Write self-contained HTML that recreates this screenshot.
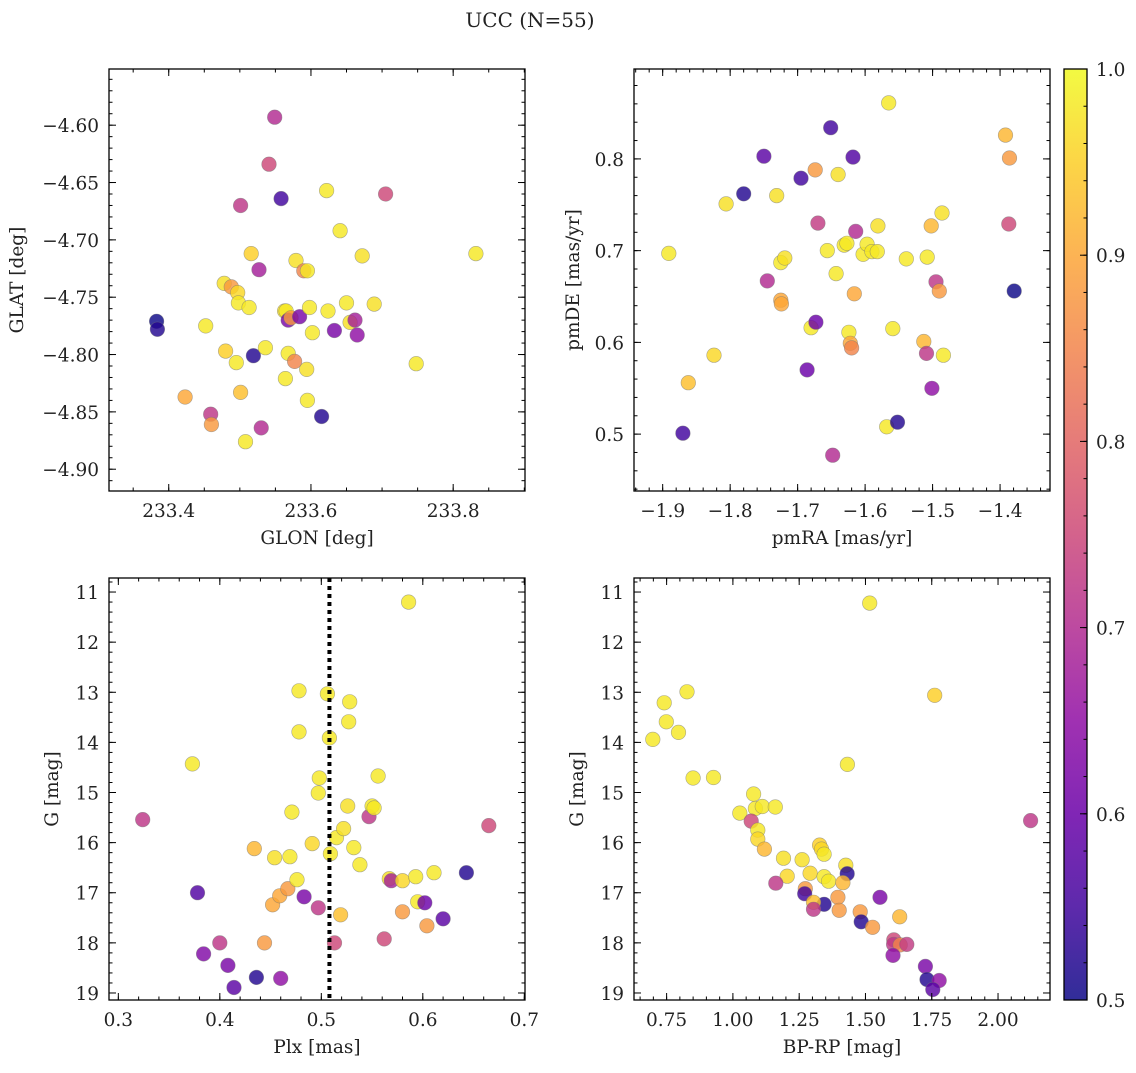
<!DOCTYPE html>
<html><head><meta charset="utf-8">
<style>
html,body{margin:0;padding:0;background:#fff;}
svg text{font-family:"DejaVu Serif","Liberation Serif",serif;fill:#222;}
</style></head>
<body>
<svg id="fig" width="1136" height="1068" viewBox="0 0 1136 1068" xmlns="http://www.w3.org/2000/svg">
<text x="530" y="27" font-size="20" text-anchor="middle">UCC (N=55)</text>
</svg>
<script>
const p1x = [233.383,233.384,233.423,233.452,233.459,233.460,233.480,233.478,233.488,233.497,233.498,233.495,233.501,233.501,233.508,233.513,233.516,233.519,233.527,233.530,233.536,233.541,233.549,233.558,233.563,233.565,233.568,233.564,233.568,233.572,233.577,233.579,233.584,233.590,233.595,233.594,233.595,233.598,233.602,233.615,233.622,233.624,233.633,233.641,233.650,233.655,233.662,233.665,233.672,233.689,233.705,233.748,233.832];
const p1y = [-4.771,-4.778,-4.837,-4.775,-4.852,-4.861,-4.797,-4.738,-4.741,-4.746,-4.755,-4.807,-4.670,-4.833,-4.876,-4.759,-4.712,-4.801,-4.726,-4.864,-4.794,-4.634,-4.593,-4.664,-4.762,-4.762,-4.770,-4.821,-4.799,-4.768,-4.806,-4.718,-4.767,-4.727,-4.727,-4.813,-4.840,-4.759,-4.781,-4.854,-4.657,-4.762,-4.779,-4.692,-4.755,-4.772,-4.770,-4.783,-4.714,-4.756,-4.660,-4.808,-4.712];
const p1c = [0.5,0.52,0.9,0.98,0.72,0.88,0.95,0.97,0.88,0.96,0.98,0.98,0.72,0.93,0.98,0.98,0.95,0.52,0.68,0.7,0.98,0.75,0.7,0.55,0.97,0.98,0.62,0.98,0.98,0.88,0.85,0.97,0.62,0.85,0.98,0.97,0.98,0.98,0.98,0.52,0.98,0.98,0.62,0.98,0.98,0.97,0.68,0.65,0.97,0.97,0.75,0.98,0.98];
const p2x = [-1.891,-1.862,-1.870,-1.824,-1.806,-1.780,-1.750,-1.745,-1.731,-1.725,-1.719,-1.725,-1.724,-1.695,-1.680,-1.686,-1.674,-1.670,-1.673,-1.656,-1.651,-1.648,-1.643,-1.640,-1.631,-1.627,-1.624,-1.622,-1.620,-1.618,-1.616,-1.614,-1.603,-1.597,-1.590,-1.582,-1.581,-1.565,-1.568,-1.559,-1.552,-1.539,-1.513,-1.509,-1.508,-1.502,-1.501,-1.495,-1.490,-1.486,-1.484,-1.392,-1.386,-1.387,-1.379];
const p2y = [0.697,0.556,0.501,0.586,0.751,0.762,0.803,0.667,0.760,0.687,0.692,0.646,0.642,0.779,0.616,0.570,0.788,0.730,0.622,0.700,0.834,0.477,0.675,0.783,0.706,0.708,0.611,0.599,0.594,0.802,0.653,0.721,0.696,0.707,0.699,0.699,0.727,0.861,0.508,0.615,0.513,0.691,0.601,0.588,0.693,0.727,0.550,0.666,0.656,0.741,0.586,0.826,0.801,0.729,0.656];
const p2c = [0.98,0.93,0.55,0.96,0.97,0.52,0.58,0.7,0.97,0.98,0.97,0.9,0.9,0.55,0.98,0.6,0.88,0.73,0.6,0.98,0.55,0.7,0.98,0.97,0.98,0.98,0.98,0.9,0.85,0.57,0.9,0.7,0.98,0.98,0.98,0.98,0.97,0.98,0.98,0.98,0.52,0.98,0.92,0.72,0.98,0.92,0.65,0.72,0.88,0.97,0.98,0.92,0.88,0.75,0.5];
const p3x = [0.324,0.373,0.378,0.384,0.400,0.408,0.414,0.434,0.436,0.444,0.452,0.454,0.459,0.460,0.467,0.469,0.471,0.476,0.478,0.478,0.483,0.491,0.497,0.498,0.497,0.506,0.508,0.509,0.513,0.515,0.519,0.522,0.526,0.528,0.527,0.532,0.538,0.556,0.547,0.550,0.552,0.562,0.567,0.569,0.580,0.580,0.586,0.593,0.595,0.602,0.604,0.611,0.620,0.643,0.665];
const p3y = [15.54,14.43,17.00,18.22,18.00,18.45,18.89,16.12,18.69,18.00,17.24,16.30,17.06,18.71,16.92,16.28,15.39,16.74,12.97,13.79,17.08,16.02,17.30,14.71,15.01,13.03,13.91,16.22,18.00,15.90,17.44,15.72,15.27,13.19,13.59,16.10,16.44,14.67,15.48,15.27,15.31,17.92,16.72,16.76,16.76,17.38,11.20,16.68,17.18,17.20,17.66,16.60,17.52,16.60,15.66];
const p3c = [0.72,0.98,0.57,0.63,0.72,0.62,0.58,0.92,0.52,0.88,0.9,0.97,0.9,0.65,0.88,0.98,0.98,0.98,0.98,0.98,0.62,0.96,0.72,0.98,0.98,0.98,0.98,0.98,0.75,0.98,0.93,0.97,0.97,0.98,0.98,0.98,0.98,0.98,0.72,0.98,0.98,0.75,0.97,0.68,0.96,0.88,0.98,0.98,0.98,0.6,0.88,0.98,0.58,0.52,0.75];
const plxLine = [0.508];
const p4x = [1.516,1.761,0.698,0.741,0.749,0.795,0.827,0.850,0.927,1.432,2.123,1.078,1.026,1.085,1.111,1.160,1.069,1.094,1.094,1.119,1.191,1.261,1.327,1.334,1.344,1.426,1.431,1.205,1.291,1.344,1.361,1.415,1.162,1.273,1.271,1.344,1.304,1.304,1.396,1.401,1.555,1.480,1.484,1.527,1.629,1.607,1.606,1.631,1.656,1.604,1.726,1.732,1.778,1.754];
const p4y = [11.22,13.06,13.94,13.21,13.59,13.80,12.99,14.71,14.70,14.44,15.56,15.03,15.41,15.32,15.28,15.29,15.57,15.75,15.93,16.13,16.31,16.34,16.05,16.13,16.23,16.45,16.62,16.67,16.61,16.68,16.77,16.80,16.81,16.92,17.02,17.23,17.19,17.33,17.09,17.35,17.09,17.38,17.58,17.69,17.48,17.94,18.03,18.04,18.03,18.25,18.47,18.73,18.75,18.93];
const p4c = [0.98,0.95,0.98,0.98,0.98,0.98,0.98,0.98,0.98,0.98,0.72,0.98,0.98,0.98,0.98,0.98,0.75,0.98,0.96,0.92,0.97,0.97,0.95,0.96,0.98,0.97,0.52,0.96,0.96,0.98,0.98,0.92,0.72,0.88,0.55,0.52,0.93,0.72,0.88,0.88,0.62,0.88,0.52,0.88,0.92,0.75,0.72,0.85,0.73,0.65,0.62,0.52,0.65,0.58];
const cbTicks = [0.5,0.6,0.7,0.8,0.9,1.0];

const NS = "http://www.w3.org/2000/svg";
const svg = document.getElementById('fig');
const stops = ["#0d0887","#41049d","#6a00a8","#8f0da4","#b12a90","#cc4778","#e16462","#f2844b","#fca636","#fcce25","#f0f921"];
function hex(h){return [parseInt(h.slice(1,3),16),parseInt(h.slice(3,5),16),parseInt(h.slice(5,7),16)];}
function plasma(t){t=Math.max(0,Math.min(1,t));const f=t*10;const i=Math.min(9,Math.floor(f));const u=f-i;const a=hex(stops[i]),b=hex(stops[i+1]);
  return "rgb("+a.map((v,k)=>Math.round(v+(b[k]-v)*u)).join(",")+")";}
function mk(tag,attrs,parent){const e=document.createElementNS(NS,tag);for(const k in attrs)e.setAttribute(k,attrs[k]);(parent||svg).appendChild(e);return e;}
const FS=18.5;
function panel(o){
  const g=mk('g',{});
  
  
  const sx=v=>o.L+(v-o.x0)/(o.x1-o.x0)*(o.R-o.L);
  const sy=v=>o.B-(v-o.y0)/(o.y1-o.y0)*(o.B-o.T);
  const pg=mk('g',{},g);
  
  
  for(let i=0;i<o.xs.length;i++){
    const c=mk('circle',{cx:sx(o.xs[i]).toFixed(1),cy:sy(o.ys[i]).toFixed(1),r:7.3,fill:plasma((o.cs[i]-0.5)/0.5),'fill-opacity':0.82,stroke:'#777','stroke-opacity':0.6,'stroke-width':0.6},pg);
    
    
  }
  if(o.vline){
    o.vline.forEach(v=>{
      const l=mk('line',{x1:sx(v),x2:sx(v),y1:o.T,y2:o.B,stroke:'#000','stroke-width':4,'stroke-dasharray':'4,4'},g);
      
      
    });
  }
  const tg=mk('g',{stroke:'#000','stroke-width':1},g);
  function ticksFor(lo,hi,step){const a=[];const s=Math.ceil(lo/step-1e-6);for(let k=s;k*step<=hi+1e-9;k++)a.push(+(k*step).toFixed(6));return a;}
  const xlo=Math.min(o.x0,o.x1),xhi=Math.max(o.x0,o.x1),ylo=Math.min(o.y0,o.y1),yhi=Math.max(o.y0,o.y1);
  ticksFor(xlo,xhi,o.xmin).forEach(v=>{const x=sx(v);mk('line',{x1:x,x2:x,y1:o.B,y2:o.B-3.5},tg);mk('line',{x1:x,x2:x,y1:o.T,y2:o.T+3.5},tg);});
  ticksFor(ylo,yhi,o.ymin).forEach(v=>{const y=sy(v);mk('line',{x1:o.L,x2:o.L+3.5,y1:y,y2:y},tg);mk('line',{x1:o.R,x2:o.R-3.5,y1:y,y2:y},tg);});
  ticksFor(xlo,xhi,o.xmaj).forEach(v=>{const x=sx(v);mk('line',{x1:x,x2:x,y1:o.B,y2:o.B-7},tg);mk('line',{x1:x,x2:x,y1:o.T,y2:o.T+7},tg);
    const t=mk('text',{x:x,y:o.B+26,'font-size':FS,'text-anchor':'middle'},g);t.textContent=o.xf(v).replace('-','\u2212');
    
    });
  ticksFor(ylo,yhi,o.ymaj).forEach(v=>{const y=sy(v);mk('line',{x1:o.L,x2:o.L+7,y1:y,y2:y},tg);mk('line',{x1:o.R,x2:o.R-7,y1:y,y2:y},tg);
    const t=mk('text',{x:o.L-10,y:y+7,'font-size':FS,'text-anchor':'end'},g);t.textContent=o.yf(v).replace('-','\u2212');
    
    });
  const fr=mk('rect',{x:o.L,y:o.T,width:o.R-o.L,height:o.B-o.T,fill:'none',stroke:'#000','stroke-width':1.3},g);
  
  
  const xl=mk('text',{x:(o.L+o.R)/2,y:o.B+53,'font-size':FS,'text-anchor':'middle'},g);xl.textContent=o.xlabel;
  
  
  const yx=o.ylx, yy=(o.T+o.B)/2;
  const yl=mk('text',{x:yx,y:yy,'font-size':FS,'text-anchor':'middle',transform:'rotate(-90 '+yx+' '+yy+')'},g);yl.textContent=o.ylabel;
  
  
}
const f2=v=>v.toFixed(2), f1=v=>v.toFixed(1), f0=v=>v.toFixed(0);
panel({name:'glon-glat-panel',L:109,R:525,T:69,B:491,x0:233.316,x1:233.901,y0:-4.919,y1:-4.551,xs:p1x,ys:p1y,cs:p1c,xmaj:0.2,xmin:0.05,ymaj:0.05,ymin:0.01,xf:f1,yf:f2,xlabel:'GLON [deg]',ylabel:'GLAT [deg]',ylx:23});
panel({name:'pm-panel',L:634,R:1050,T:69,B:491,x0:-1.9425,x1:-1.326,y0:0.438,y1:0.898,xs:p2x,ys:p2y,cs:p2c,xmaj:0.1,xmin:0.02,ymaj:0.1,ymin:0.02,xf:f1,yf:f1,xlabel:'pmRA [mas/yr]',ylabel:'pmDE [mas/yr]',ylx:579});
panel({name:'plx-g-panel',L:109,R:525,T:578,B:1000,x0:0.2908,x1:0.7007,y0:19.14,y1:10.72,xs:p3x,ys:p3y,cs:p3c,xmaj:0.1,xmin:0.02,ymaj:1,ymin:0.2,xf:f1,yf:f0,xlabel:'Plx [mas]',ylabel:'G [mag]',ylx:58,vline:plxLine});
panel({name:'cmd-panel',L:634,R:1050,T:578,B:1000,x0:0.627,x1:2.196,y0:19.14,y1:10.72,xs:p4x,ys:p4y,cs:p4c,xmaj:0.25,xmin:0.05,ymaj:1,ymin:0.2,xf:f2,yf:f0,xlabel:'BP-RP [mag]',ylabel:'G [mag]',ylx:583});

const cbL=1064,cbR=1087,cbT=69,cbB=1000;
const defs=mk('defs',{});
const lg=mk('linearGradient',{id:'cbg',x1:0,y1:1,x2:0,y2:0},defs);
stops.forEach((s,i)=>mk('stop',{offset:(i/10),'stop-color':s,'stop-opacity':0.85},lg));
const cb=mk('rect',{x:cbL,y:cbT,width:cbR-cbL,height:cbB-cbT,fill:'url(#cbg)',stroke:'#000','stroke-width':1.3});


const cy=v=>cbB-(v-0.5)/0.5*(cbB-cbT);
for(let k=0;k<=25;k++){const v=0.5+k*0.02;mk('line',{x1:cbR,x2:cbR-3.5,y1:cy(v),y2:cy(v),stroke:'#000'});}
cbTicks.forEach(v=>{mk('line',{x1:cbR,x2:cbR-7,y1:cy(v),y2:cy(v),stroke:'#000'});
  const t=mk('text',{x:cbR+9,y:cy(v)+7,'font-size':FS});t.textContent=v.toFixed(1);
  
  });
</script>
</body></html>
